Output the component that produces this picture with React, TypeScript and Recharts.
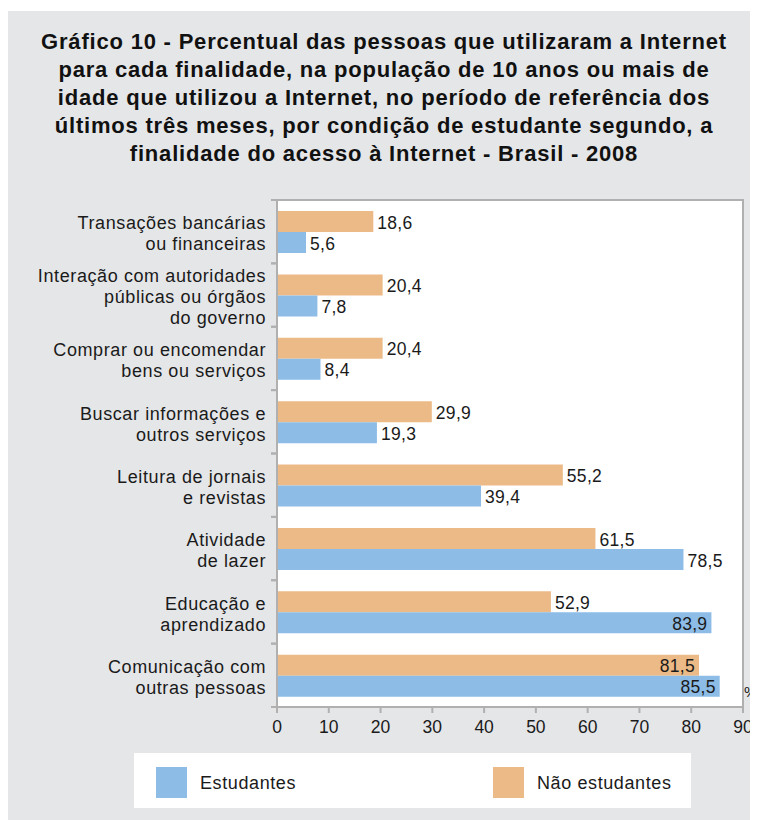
import { BarChart, Bar, XAxis, YAxis, CartesianGrid, LabelList, ReferenceArea } from 'recharts';

const categories = [
  'Transações bancárias\nou financeiras',
  'Interação com autoridades\npúblicas ou órgãos\ndo governo',
  'Comprar ou encomendar\nbens ou serviços',
  'Buscar informações e\noutros serviços',
  'Leitura de jornais\ne revistas',
  'Atividade\nde lazer',
  'Educação e\naprendizado',
  'Comunicação com\noutras pessoas',
];
const estudantes    = [5.6, 7.8, 8.4, 19.3, 39.4, 78.5, 83.9, 85.5];
const naoEstudantes = [18.6, 20.4, 20.4, 29.9, 55.2, 61.5, 52.9, 81.5];
const xTicks = [0, 10, 20, 30, 40, 50, 60, 70, 80, 90];

const data = categories.map((cat, i) => ({ cat, est: estudantes[i], nao: naoEstudantes[i] }));

const FONT = '"Liberation Sans", Arial, sans-serif';
const INK = '#1a1a1a';
const AXIS = '#b0b0b0';
const BLUE = '#8dbce6';
const ORANGE = '#ebba86';
const BAND = 507 / categories.length;

function CategoryTick({ x, y, payload }: any) {
  const lines = String(payload.value).split('\n');
  const lh = 21;
  const y0 = y - ((lines.length - 1) * lh) / 2 + 2;
  return (
    <g>
      <line x1={x + 5} x2={x + 11} y1={y - BAND / 2} y2={y - BAND / 2} stroke={AXIS} strokeWidth={2} />
      <line x1={x + 5} x2={x + 11} y1={y + BAND / 2} y2={y + BAND / 2} stroke={AXIS} strokeWidth={2} />
      <text x={x} y={y0} textAnchor="end" fontSize={18} letterSpacing={0.6} fill={INK} fontFamily={FONT}>
        {lines.map((l, i) => (
          <tspan key={i} x={x} y={y0 + i * lh} dy="0.35em">{l}</tspan>
        ))}
      </text>
    </g>
  );
}

function ValueLabel({ x, y, width, height, value }: any) {
  const inside = value > 80;
  return (
    <text
      x={inside ? x + width - 4 : x + width + 4}
      y={y + height / 2 + 1}
      dy="0.35em"
      textAnchor={inside ? 'end' : 'start'}
      fontSize={17.5}
      letterSpacing={0.3}
      fill={INK}
      fontFamily={FONT}
    >
      {String(value).replace('.', ',')}
    </text>
  );
}

export default function App() {
  return (
    <div style={{ paddingTop: 3, fontFamily: FONT }}>
      <div style={{ position: 'relative', width: 750, height: 809, background: '#e5e6e8', overflow: 'hidden' }}>
        {/* Title */}
        <div style={{
          position: 'absolute', left: 0, top: 17, width: 752, textAlign: 'center',
          fontWeight: 700, fontSize: 22, letterSpacing: 0.8, lineHeight: '28px', color: '#111',
        }}>
          Gráfico 10 - Percentual das pessoas que utilizaram a Internet<br />
          para cada finalidade, na população de 10 anos ou mais de<br />
          idade que utilizou a Internet, no período de referência dos<br />
          últimos três meses, por condição de estudante segundo, a<br />
          finalidade do acesso à Internet - Brasil - 2008
        </div>

        <div style={{ position: 'absolute', left: 0, top: 0 }}>
          <BarChart
            width={750}
            height={740}
            data={data}
            layout="vertical"
            margin={{ top: 189, right: 15, left: 0, bottom: 14 }}
            barSize={21}
            barGap={0}
          >
            <CartesianGrid fill="#fff" horizontal={false} vertical={false} />
            <XAxis
              type="number"
              domain={[0, 90]}
              ticks={xTicks}
              height={30}
              stroke={AXIS}
              strokeWidth={2}
              tickSize={6}
              tickMargin={8}
              tick={{ fontSize: 17.5, fill: INK, fontFamily: FONT }}
            />
            <YAxis
              type="category"
              dataKey="cat"
              width={269}
              interval={0}
              stroke={AXIS}
              strokeWidth={2}
              tickLine={false}
              tickSize={6}
              tickMargin={5}
              tick={<CategoryTick />}
            />
            <ReferenceArea x1={0} x2={90} fill="none" stroke={AXIS} strokeWidth={2} />
            <Bar dataKey="nao" fill={ORANGE} isAnimationActive={false}>
              <LabelList dataKey="nao" content={<ValueLabel />} />
            </Bar>
            <Bar dataKey="est" fill={BLUE} isAnimationActive={false}>
              <LabelList dataKey="est" content={<ValueLabel />} />
            </Bar>
          </BarChart>
        </div>

        <div style={{ position: 'absolute', left: 736, top: 672, fontSize: 15.5, color: INK }}>%</div>

        {/* Legend */}
        <div style={{ position: 'absolute', left: 126, top: 742, width: 557, height: 55, background: '#fff' }}>
          <span style={{ position: 'absolute', left: 22, top: 14, width: 31, height: 31, background: BLUE }} />
          <span style={{ position: 'absolute', left: 66, top: 20, fontSize: 18, letterSpacing: 0.6, color: INK }}>Estudantes</span>
          <span style={{ position: 'absolute', left: 359, top: 14, width: 31, height: 31, background: ORANGE }} />
          <span style={{ position: 'absolute', left: 403, top: 20, fontSize: 18, letterSpacing: 0.6, color: INK }}>Não estudantes</span>
        </div>
      </div>
    </div>
  );
}
